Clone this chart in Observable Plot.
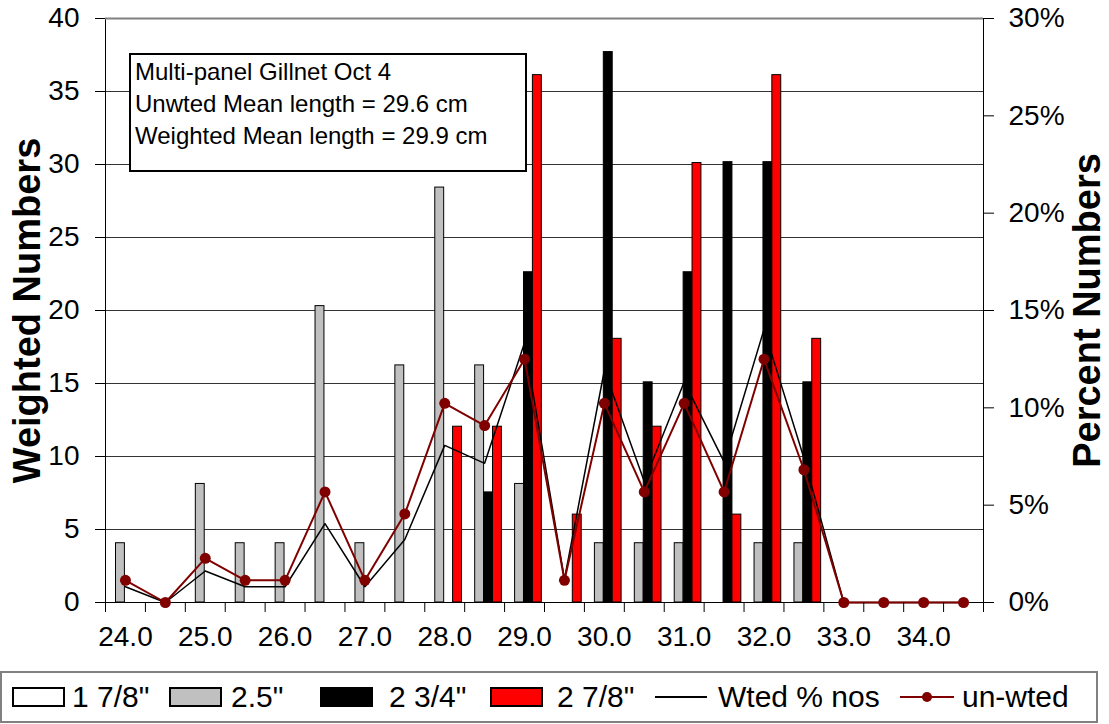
<!DOCTYPE html>
<html><head><meta charset="utf-8">
<script src="https://cdn.jsdelivr.net/npm/d3@7"></script>
<script src="https://cdn.jsdelivr.net/npm/@observablehq/plot@0.6"></script>
<style>
body{margin:0;background:#fff;font-family:"Liberation Sans",Arial,sans-serif;}
#wrap{position:relative;width:1109px;height:724px;overflow:hidden;background:#fff;}
#note{position:absolute;left:129px;top:53px;width:398px;height:119px;box-sizing:border-box;border:2px solid #000;background:#fff;font-size:24px;line-height:32px;padding:1px 0 0 4px;color:#000;}
#legend{position:absolute;left:0;top:671px;width:1098px;height:52px;box-sizing:border-box;border:2px solid #808080;background:#fff;}
.li{position:absolute;top:0;height:48px;display:flex;align-items:center;font-size:30px;color:#000;white-space:nowrap;}
.sw{width:49px;height:16px;border:2px solid #000;box-sizing:content-box;}
</style></head><body><div id="wrap"></div>
<script>
// ---- data ----
const lengths = [24.0,24.5,25.0,25.5,26.0,26.5,27.0,27.5,28.0,28.5,29.0,29.5,30.0,30.5,31.0,31.5,32.0,32.5,33.0,33.5,34.0,34.5];
const seriesNames = ['1 7/8"', '2.5"', '2 3/4"', '2 7/8"'];
const seriesColors = ["#ffffff", "#c0c0c0", "#000000", "#ff0000"];
const mesh1_7_8 = [0,0,0,0,0,0,0,0,0,0,0,0,0,0,0,0,0,0,0,0,0,0];
const mesh2_5   = [4.06,0,8.12,4.06,4.06,20.3,4.06,16.24,28.42,16.24,8.12,0,4.06,4.06,4.06,0,4.06,4.06,0,0,0,0];
const mesh2_3_4 = [0,0,0,0,0,0,0,0,0,7.54,22.62,0,37.7,15.08,22.62,30.16,30.16,15.08,0,0,0,0];
const mesh2_7_8 = [0,0,0,0,0,0,0,0,12.04,12.04,36.12,6.02,18.06,12.04,30.1,6.02,36.12,18.06,0,0,0,0];
const wtedPct   = [0.81,0,1.62,0.81,0.81,4.05,0.81,3.24,8.07,7.15,13.34,1.2,11.93,6.22,11.33,7.22,14.03,7.42,0,0,0,0];
const unwtedPct = [1.14,0,2.27,1.14,1.14,5.68,1.14,4.55,10.23,9.09,12.5,1.14,10.23,5.68,10.23,5.68,12.5,6.82,0,0,0,0];
const leftTicks = [0,5,10,15,20,25,30,35,40];
const rightTicks = [0,5,10,15,20,25,30];
const noteLines = ["Multi-panel Gillnet Oct 4", "Unwted Mean length = 29.6 cm", "Weighted Mean length = 29.9 cm"];
const lineNames = ["Wted % nos", "un-wted"];

// ---- build ----
const seriesValues = [mesh1_7_8, mesh2_5, mesh2_3_4, mesh2_7_8];
const W = 1109, H = 665, mL = 105, mR = 126, mT = 18, mB = 63;
const bw = (W - mL - mR) / lengths.length;
const k = 40 / 30; // percent -> left scale
const barRows = seriesNames.flatMap((s, i) => lengths.map((L, j) => ({len: L, series: s, i, value: seriesValues[i][j]}))).filter(d => d.value > 0);
const pctRows = lengths.map((L, j) => ({len: L, wted: wtedPct[j], unwted: unwtedPct[j]}));
const barW = 8.9, barOff = 1.6;

const barMarks = seriesNames.map((s, i) => Plot.barY(barRows.filter(d => d.i === i), {
  x: "len", y: "value", fill: seriesColors[i], stroke: "#000", strokeWidth: 1,
  insetLeft: barOff + barW * i, insetRight: bw - (barOff + barW * (i + 1))
}));

const chart = Plot.plot({
  width: W, height: H, marginLeft: mL, marginRight: mR, marginTop: mT, marginBottom: mB,
  style: {fontFamily: '"Liberation Sans", Arial, sans-serif', background: "white", color: "#000"},
  x: {type: "band", domain: lengths, padding: 0, round: false},
  y: {domain: [0, 40]},
  marks: [
    Plot.ruleY(leftTicks.filter(t => t > 0 && t < 40), {stroke: "#333", strokeWidth: 1}),
    Plot.frame({stroke: "#000", strokeWidth: 1}),
    Plot.ruleY([40], {stroke: "#808080", strokeWidth: 2}),
    ...barMarks,
    Plot.line(pctRows, {x: "len", y: d => d.wted * k, stroke: "#000", strokeWidth: 1.5}),
    Plot.line(pctRows, {x: "len", y: d => d.unwted * k, stroke: "#800000", strokeWidth: 2}),
    Plot.dot(pctRows, {x: "len", y: d => d.unwted * k, r: 5.5, fill: "#800000", stroke: "none"}),
    Plot.axisY(leftTicks, {anchor: "left", tickSize: 10, tickPadding: 16, fontSize: 28, label: null}),
    Plot.axisY(rightTicks.map(p => p * k), {anchor: "right", tickSize: 10, tickPadding: 15, fontSize: 28, label: null, tickFormat: d => Math.round(d / k) + "%"}),
    Plot.axisX(lengths, {tickSize: 10, tickFormat: () => "", dx: -bw / 2, label: null}),
    Plot.axisX([lengths[lengths.length - 1]], {tickSize: 10, tickFormat: () => "", dx: bw / 2, label: null}),
    Plot.axisX(lengths.filter(L => L % 1 === 0), {tickSize: 0, tickPadding: 24, fontSize: 28, label: null, tickFormat: d => d.toFixed(1)}),
    Plot.text(["Weighted Numbers"], {text: d => d, frameAnchor: "left", dx: -78, rotate: -90, fontSize: 38, fontWeight: "bold", textAnchor: "middle", lineAnchor: "middle"}),
    Plot.text(["Percent Numbers"], {text: d => d, frameAnchor: "right", dx: 104, rotate: -90, fontSize: 38, fontWeight: "bold", textAnchor: "middle", lineAnchor: "middle"})
  ]
});
const wrap = document.getElementById("wrap");
wrap.appendChild(chart);

// annotation box
const note = document.createElement("div");
note.id = "note";
note.innerHTML = noteLines.map(t => `<div>${t}</div>`).join("");
wrap.appendChild(note);

// legend
const legend = document.createElement("div");
legend.id = "legend";
wrap.appendChild(legend);
const swLeft = [10, 167, 318, 488];
const txLeft = [70, 229, 387, 555];
seriesNames.forEach((s, i) => {
  const a = document.createElement("div"); a.className = "li"; a.style.left = (swLeft[i]) + "px";
  a.innerHTML = `<div class="sw" style="background:${seriesColors[i]}"></div>`;
  legend.appendChild(a);
  const b = document.createElement("div"); b.className = "li"; b.style.left = (txLeft[i]) + "px";
  b.textContent = s;
  legend.appendChild(b);
});
// line items
const l1 = document.createElement("div"); l1.className = "li"; l1.style.left = "653px";
l1.innerHTML = `<svg width="52" height="12"><line x1="0" x2="52" y1="6" y2="6" stroke="#000" stroke-width="2"/></svg>`;
legend.appendChild(l1);
const t1 = document.createElement("div"); t1.className = "li"; t1.style.left = "716px"; t1.textContent = lineNames[0];
legend.appendChild(t1);
const l2 = document.createElement("div"); l2.className = "li"; l2.style.left = "898px";
l2.innerHTML = `<svg width="54" height="14"><line x1="0" x2="54" y1="7" y2="7" stroke="#800000" stroke-width="2"/><circle cx="27" cy="7" r="5" fill="#800000"/></svg>`;
legend.appendChild(l2);
const t2 = document.createElement("div"); t2.className = "li"; t2.style.left = "960px"; t2.textContent = lineNames[1];
legend.appendChild(t2);
</script></body></html>
